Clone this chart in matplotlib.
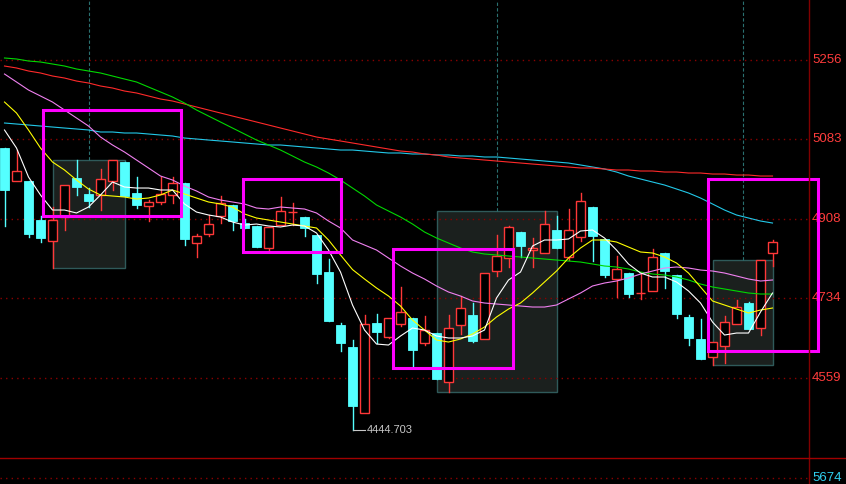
import matplotlib
matplotlib.use('Agg')
import matplotlib.pyplot as plt
from matplotlib.patches import Rectangle
from matplotlib.lines import Line2D
import matplotlib.transforms as mtransforms

# daily candles
opens = [5063.8, 4991.5, 4991.5, 4906.0, 4860.0, 4912.6, 4998.1, 4963.0, 4960.8, 4991.5,
         5033.1, 4965.2, 4936.7, 4945.5, 4960.8, 4987.1, 4855.6, 4875.3, 4914.8, 4938.9,
         4899.4, 4892.9, 4844.6, 4895.0, 4923.5, 4912.6, 4873.1, 4792.0, 4675.9, 4627.6,
         4483.0, 4680.3, 4649.6, 4678.1, 4691.2, 4636.4, 4658.3, 4550.9, 4675.9, 4697.8,
         4645.2, 4794.2, 4822.7, 4879.7, 4840.2, 4833.7, 4884.1, 4824.9, 4868.7, 4934.5,
         4864.4, 4776.7, 4789.8, 4746.0, 4750.4, 4833.7, 4785.5, 4693.4, 4645.2, 4605.7,
         4629.8, 4678.1, 4724.1, 4669.3, 4833.7]
highs = [5063.8, 5059.4, 4991.5, 4914.8, 4934.5, 4982.7, 5037.5, 4976.1, 5017.8, 5037.5,
         5033.1, 5000.3, 4949.8, 5000.3, 5000.3, 4987.1, 4875.3, 4917.0, 4958.6, 4938.9,
         4908.2, 4892.9, 4890.7, 4956.4, 4943.3, 4912.6, 4873.1, 4820.5, 4680.3, 4643.0,
         4697.8, 4700.0, 4691.2, 4759.2, 4691.2, 4695.6, 4658.3, 4697.8, 4739.4, 4724.1,
         4789.8, 4873.1, 4892.9, 4879.7, 4866.6, 4925.7, 4914.8, 4930.1, 4965.2, 4934.5,
         4864.4, 4827.1, 4789.8, 4789.8, 4842.4, 4833.7, 4785.5, 4697.8, 4689.0, 4638.6,
         4695.6, 4730.7, 4726.3, 4818.3, 4862.2]
lows = [4892.9, 4991.5, 4868.7, 4857.8, 4800.8, 4884.1, 4960.8, 4934.5, 4927.9, 4971.8,
        4958.6, 4932.3, 4903.8, 4941.1, 4943.3, 4851.2, 4824.9, 4870.9, 4899.4, 4884.1,
        4888.5, 4846.8, 4835.9, 4895.0, 4895.0, 4870.9, 4767.9, 4684.6, 4618.9, 4444.703,
        4483.0, 4636.4, 4647.4, 4673.7, 4583.8, 4632.0, 4557.5, 4529.0, 4656.1, 4638.6,
        4645.2, 4783.3, 4803.0, 4824.9, 4803.0, 4833.7, 4844.6, 4818.3, 4860.0, 4816.1,
        4781.1, 4737.2, 4737.2, 4732.9, 4750.4, 4757.0, 4691.2, 4632.0, 4601.3, 4588.2,
        4592.6, 4678.1, 4667.1, 4653.9, 4805.2]
closes = [4971.8, 5013.4, 4875.3, 4866.6, 4906.0, 4982.7, 4978.3, 4947.6, 4995.9, 5037.5,
          4958.6, 4938.9, 4945.5, 4963.0, 4987.1, 4864.4, 4870.9, 4897.2, 4943.3, 4903.8,
          4888.5, 4846.8, 4890.7, 4925.7, 4923.5, 4888.5, 4787.6, 4684.6, 4636.4, 4498.3,
          4678.1, 4660.5, 4691.2, 4704.4, 4621.1, 4664.9, 4557.5, 4669.3, 4713.1, 4640.8,
          4789.8, 4827.1, 4890.7, 4849.0, 4844.6, 4897.2, 4844.6, 4884.1, 4947.6, 4870.9,
          4785.5, 4798.6, 4743.8, 4746.0, 4824.9, 4794.2, 4700.0, 4647.4, 4601.3, 4638.6,
          4682.4, 4715.3, 4667.1, 4818.3, 4857.8]

# moving average lines
ma_white = [5103.3, 5063.8, 5000.3, 4960.8, 4927.9, 4927.9, 4921.4, 4934.5, 4960.8, 4989.3,
            4978.3, 4976.1, 4976.1, 4971.8, 4971.8, 4941.1, 4923.5, 4917.0, 4912.6, 4901.6,
            4895.0, 4897.2, 4892.9, 4890.7, 4895.0, 4892.9, 4877.5, 4840.2, 4792.0, 4719.7,
            4664.9, 4634.2, 4632.0, 4651.8, 4669.3, 4664.9, 4651.8, 4647.4, 4647.4, 4651.8,
            4664.9, 4735.1, 4774.5, 4792.0, 4849.0, 4862.2, 4862.2, 4864.4, 4881.9, 4884.1,
            4866.6, 4840.2, 4809.6, 4789.8, 4781.1, 4781.1, 4770.1, 4750.4, 4724.1, 4682.4,
            4653.9, 4658.3, 4658.3, 4704.4, 4746.0]
ma_yellow = [5164.6, 5140.5, 5103.3, 5063.8, 5033.1, 5015.6, 4993.7, 4973.9, 4960.8, 4958.6,
             4956.4, 4952.0, 4954.2, 4960.8, 4971.8, 4963.0, 4954.2, 4945.5, 4941.1, 4934.5,
             4919.2, 4910.4, 4906.0, 4901.6, 4897.2, 4892.9, 4888.5, 4862.2, 4829.3, 4797.4,
             4776.7, 4757.0, 4739.4, 4717.5, 4686.8, 4664.9, 4643.0, 4638.6, 4645.2, 4656.1,
             4671.5, 4693.4, 4710.9, 4724.1, 4746.0, 4770.1, 4794.2, 4822.7, 4844.6, 4862.2,
             4862.2, 4857.8, 4846.8, 4835.9, 4833.7, 4824.9, 4811.8, 4789.8, 4759.2, 4728.5,
             4719.7, 4710.9, 4702.2, 4708.7, 4713.1]
ma_pink = [5226.0, 5208.5, 5190.9, 5177.8, 5164.6, 5147.1, 5129.6, 5112.0, 5087.9, 5070.4,
           5055.0, 5037.5, 5020.0, 5002.4, 4993.7, 4980.5, 4969.6, 4956.4, 4949.8, 4945.5,
           4941.1, 4932.3, 4930.1, 4934.5, 4932.3, 4930.1, 4921.4, 4903.8, 4888.5, 4862.2,
           4851.2, 4840.2, 4822.7, 4805.2, 4789.8, 4776.7, 4761.4, 4748.2, 4739.4, 4728.5,
           4724.1, 4721.9, 4719.7, 4717.5, 4715.3, 4715.3, 4719.7, 4732.9, 4746.0, 4761.4,
           4767.9, 4772.3, 4778.9, 4787.6, 4794.2, 4800.8, 4803.0, 4800.8, 4796.4, 4794.2,
           4789.8, 4783.3, 4776.7, 4772.3, 4774.5]
ma_green = [5261.1, 5258.9, 5254.5, 5252.3, 5247.9, 5243.5, 5237.0, 5232.6, 5228.2, 5221.6,
            5215.0, 5208.5, 5197.5, 5186.6, 5175.6, 5162.4, 5147.1, 5133.9, 5120.8, 5107.6,
            5094.5, 5081.3, 5070.4, 5059.4, 5046.3, 5033.1, 5022.2, 5009.0, 4993.7, 4976.1,
            4958.6, 4938.9, 4925.7, 4912.6, 4897.2, 4879.7, 4866.6, 4855.6, 4844.6, 4835.9,
            4831.5, 4829.3, 4827.1, 4824.9, 4822.7, 4820.5, 4818.3, 4816.1, 4813.9, 4809.6,
            4805.2, 4803.0, 4798.6, 4792.0, 4787.6, 4785.5, 4781.1, 4774.5, 4765.7, 4759.2,
            4754.8, 4750.4, 4746.0, 4743.8, 4743.8]
ma_red = [5243.5, 5239.2, 5232.6, 5228.2, 5221.6, 5217.2, 5210.6, 5206.3, 5199.7, 5195.3,
          5188.7, 5184.4, 5177.8, 5171.2, 5166.8, 5160.3, 5153.7, 5147.1, 5140.5, 5133.9,
          5127.4, 5120.8, 5114.2, 5107.6, 5101.1, 5094.5, 5087.9, 5083.5, 5079.2, 5074.8,
          5070.4, 5066.0, 5061.6, 5057.2, 5055.0, 5050.7, 5048.5, 5044.1, 5041.9, 5039.7,
          5037.5, 5035.3, 5033.1, 5030.9, 5028.7, 5026.6, 5024.4, 5022.2, 5020.0, 5020.0,
          5017.8, 5015.6, 5015.6, 5013.4, 5013.4, 5011.2, 5011.2, 5009.0, 5009.0, 5006.8,
          5006.8, 5004.6, 5004.6, 5002.4, 5002.4]
ma_cyan = [5118.6, 5116.4, 5114.2, 5112.0, 5109.8, 5107.6, 5105.5, 5103.3, 5098.9, 5098.9,
           5096.7, 5096.7, 5094.5, 5092.3, 5090.1, 5085.7, 5083.5, 5081.3, 5079.2, 5077.0,
           5074.8, 5072.6, 5070.4, 5070.4, 5068.2, 5066.0, 5063.8, 5061.6, 5059.4, 5059.4,
           5057.2, 5055.0, 5052.9, 5052.9, 5050.7, 5050.7, 5048.5, 5048.5, 5046.3, 5046.3,
           5044.1, 5044.1, 5041.9, 5039.7, 5037.5, 5035.3, 5033.1, 5030.9, 5026.6, 5022.2,
           5017.8, 5011.2, 5002.4, 4995.9, 4989.3, 4982.7, 4974.0, 4965.2, 4954.2, 4941.1,
           4927.9, 4917.0, 4910.4, 4903.8, 4899.4]

grid_levels = [5256, 5083, 4908, 4734, 4559]
grid_labels = ['5256', '5083', '4908', '4734', '4559']
boxes = [(4, 10), (36, 46), (59, 64)]          # candle ranges of the shaded zones
marks = [(3.2, 14.7, 4914.8, 5147.1),          # magenta frames: x0, x1, y0, y1
         (19.9, 28.0, 4835.9, 4995.9),
         (32.4, 42.4, 4581.6, 4842.4),
         (58.6, 67.8, 4619.0, 4996.3)]
low_label = '4444.703'
vol_label = '5674'

UP = '#ff3838'
DOWN = '#54ffff'
GRID = '#8b0000'

fig = plt.figure(figsize=(8.46, 4.84), dpi=100, facecolor='black')
ax = fig.add_axes([0, 26 / 484, 809 / 846, 458 / 484])
ax.set_facecolor('black')
ax.set_xlim(-0.375, 67.04)
ax.set_ylim(4384.4, 5388.2)
ax.axis('off')

for lvl in grid_levels:
    ax.axhline(lvl, color=GRID, ls=(0, (1, 3)), lw=1, zorder=1)

# shaded zones + dashed centre markers
for a, b in boxes:
    top = max(highs[a:b])
    bot = min(lows[a:b])
    ax.add_patch(Rectangle((a, bot), b - a, top - bot, facecolor='#1b201e',
                           edgecolor='#2f5a5a', lw=1, zorder=0.5))
    ax.plot([(a + b) / 2] * 2, [top, 5388.2], color='#2a7070', lw=0.8,
            ls=(0, (3, 2)), zorder=0.6)

w = 0.75
for i, (o, h, l, c) in enumerate(zip(opens, highs, lows, closes)):
    if c >= o:
        ax.plot([i, i], [max(o, c), h], color=UP, lw=1, zorder=3)
        ax.plot([i, i], [l, min(o, c)], color=UP, lw=1, zorder=3)
        ax.add_patch(Rectangle((i - w / 2, o), w, c - o, facecolor='black',
                               edgecolor=UP, lw=1, zorder=3))
    else:
        ax.plot([i, i], [l, h], color=DOWN, lw=1, zorder=3)
        ax.add_patch(Rectangle((i - w / 2, c), w, o - c, facecolor=DOWN,
                               edgecolor=DOWN, lw=0.6, zorder=3))

x = list(range(len(closes)))
for ma, col in [(ma_cyan, '#22c8e8'), (ma_red, '#ff2a2a'), (ma_green, '#00d800'),
                (ma_pink, '#f080f0'), (ma_yellow, '#ffff00'), (ma_white, '#ffffff')]:
    ax.plot(x, ma, color=col, lw=0.8, zorder=4)

# lowest point tag
ilow = lows.index(min(lows))
ax.plot([ilow, ilow + 1.0], [min(lows)] * 2, color='#c8c8c8', lw=0.8, zorder=5)
ax.text(ilow + 1.2, min(lows), low_label, color='#c8c8c8', fontsize=8,
        family='Liberation Sans', va='center', ha='left', zorder=5)

for x0, x1, y0, y1 in marks:
    ax.add_patch(Rectangle((x0, y0), x1 - x0, y1 - y0, fill=False,
                           edgecolor='#ff00ff', lw=2.2, zorder=6, clip_on=False))

# right price scale
trans = mtransforms.blended_transform_factory(ax.transAxes, ax.transData)
for lvl, lab in zip(grid_levels, grid_labels):
    ax.text(812 / 809, lvl, lab, transform=trans, color='#ff3c3c', fontsize=9.5,
            family='Liberation Sans', va='center', ha='left', clip_on=False)

fig.add_artist(Line2D([809 / 846] * 2, [0, 1], transform=fig.transFigure,
                      color='#800000', lw=1))
fig.add_artist(Line2D([0, 1], [26 / 484] * 2, transform=fig.transFigure,
                      color='#a00000', lw=1))

# top of the volume panel
fig.add_artist(Line2D([0, 809 / 846], [6 / 484] * 2, transform=fig.transFigure,
                      color=GRID, lw=1, ls=(0, (1, 3))))
fig.text(812 / 846, 6 / 484, vol_label, color='#30d0f0', fontsize=9.5,
         family='Liberation Sans', va='center', ha='left')

fig.savefig('out.png', dpi=100, facecolor='black')
